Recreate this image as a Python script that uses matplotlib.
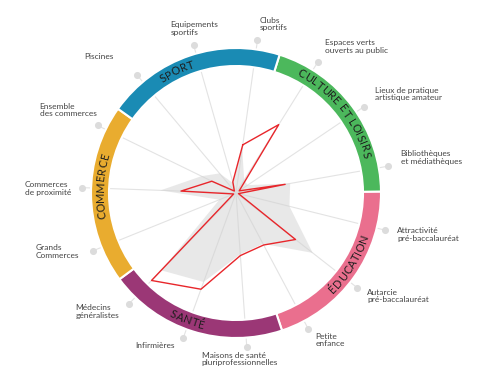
import numpy as np
import matplotlib
matplotlib.use('Agg')
import matplotlib.pyplot as plt
from matplotlib.font_manager import FontProperties, findfont
from matplotlib.ft2font import FT2Font

plt.rcParams['font.family'] = ['Lato', 'DejaVu Sans']

# axes of the radar, clockwise from the top
categories = ['Clubs\nsportifs', 'Espaces verts\nouverts au public', 'Lieux de pratique\nartistique amateur',
              'Bibliothèques\net médiathèques', 'Attractivité\npré-baccalauréat', 'Autarcie\npré-baccalauréat',
              'Petite\nenfance', 'Maisons de santé\npluriprofessionnelles', 'Infirmières',
              'Médecins\ngénéralistes', 'Grands\nCommerces', 'Commerces\nde proximité',
              'Ensemble\ndes commerces', 'Piscines', 'Equipements\nsportifs']
# scores, 100 = inner edge of the ring
moyenne = [35, 12, 11, 43, 43, 76, 45, 48, 74, 84, 14, 59, 30, 20, 8]      # grey area
territoire = [38, 63, 3, 39, 2, 59, 46, 49, 80, 95, 2, 43, 21, 2, 9]     # red line

themes = ['CULTURE ET LOISIRS', 'ÉDUCATION', 'SANTÉ', 'COMMERCE', 'SPORT']
theme_colors = ['#4cb85c', '#ea6f8e', '#9b3776', '#e9ac2f', '#1a8bb4']

# layout stuff
start = 8            # angle of first axis (deg)
ring_start = 17.5    # first ring boundary
theme_label_angle = [51, 122, 201, 273, 334]
label_pos = [('left', 'bottom', 2, 9), ('left', 'center', 7, 16), ('left', 'center', 11, 13),
             ('left', 'center', 13, 9), ('left', 'center', 12, -4), ('left', 'center', 10, -8),
             ('left', 'center', 7, -11), ('center', 'top', -7, -5), ('right', 'center', -9, -8),
             ('right', 'center', -10, -8), ('right', 'center', -14, -1), ('right', 'center', -11, -1),
             ('right', 'bottom', -1, 8), ('right', 'bottom', -23, 15), ('center', 'bottom', 1, 9)]

n = len(categories)
theta = np.deg2rad(start + 360 / n * np.arange(n))
scale = 1.28

fig = plt.figure(figsize=(5, 3.75), dpi=100)
ax = fig.add_axes([0.112, 0.00533, 0.72, 0.96], projection='polar')
ax.set_theta_zero_location('N')
ax.set_theta_direction(-1)
ax.set_ylim(0, 180)
ax.axis('off')

# spokes + dots
for t in theta:
    ax.plot([t, t], [0, 154], color='#e3e3e3', lw=0.8, zorder=1)
ax.scatter(theta, [154] * n, s=26, color='#dcdcdc', zorder=3, linewidths=0)

# data
th_c = np.append(theta, theta[0])
g = np.array(moyenne + moyenne[:1]) * scale
rd = np.array(territoire + territoire[:1]) * scale
ax.fill(th_c, g, color='#d2d2d2', alpha=0.5, lw=0, zorder=2)
ax.plot(th_c, rd, color='#e8262b', lw=1.0, zorder=4)

# coloured ring
for i, c in enumerate(theme_colors):
    mid = np.deg2rad(ring_start + 36 + 72 * i)
    ax.bar(mid, 18, width=np.deg2rad(72), bottom=127, color=c, edgecolor='white', lw=1.5, zorder=5)

# outer labels
for t, lab, (ha, va, dx, dy) in zip(theta, categories, label_pos):
    ax.annotate(lab, xy=(t, 154), xytext=(dx, dy), textcoords='offset pixels', ha=ha, va=va,
                multialignment='left', fontsize=6, color='#444444', linespacing=1.1, zorder=6)

# curved theme labels, letters placed one by one along the ring
fp = FontProperties(family='Lato', size=8)
ft = FT2Font(findfont(fp))
ft.set_size(8, 100)
track = 0.3   # extra px between letters


def advance(ch):
    return ft.load_char(ord(ch)).linearHoriAdvance / 65536


R = 136
cap = 3.9
for s, a in zip(themes, theme_label_angle):
    bottom_side = 90 < a < 265
    adv = [advance(ch) + track for ch in s]
    total = sum(adv) - track
    pos = 0
    for ch, w in zip(s, adv):
        c = pos + (w - track) / 2
        pos += w
        if ch == ' ':
            continue
        off = np.rad2deg((c - total / 2) / R)
        if bottom_side:
            ang = a - off
            rot = 180 - ang
            rr = R + cap
        else:
            ang = a + off
            rot = -ang
            rr = R - cap
        ax.text(np.deg2rad(ang), rr, ch, rotation=rot, rotation_mode='anchor', ha='center', va='baseline',
                fontproperties=fp, color='#1e1e1e', zorder=7)

fig.savefig('out.png', dpi=100)
